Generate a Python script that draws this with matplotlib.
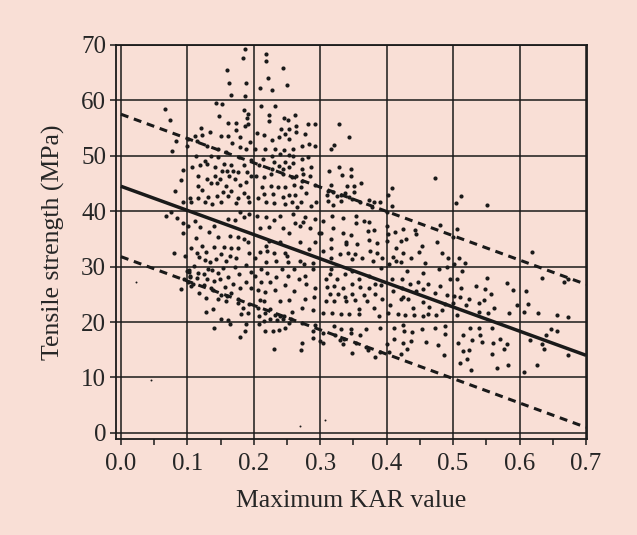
import matplotlib
matplotlib.use("Agg")
import matplotlib.pyplot as plt
from matplotlib.ticker import MultipleLocator

# ---------------- data ----------------
# KAR 0.0-0.1
x_a = [0.066,0.0745,0.083,0.077,0.1,0.0935,0.09,0.082,0.0935,0.0685,0.075,0.085,0.093,0.093,0.0795,0.096,0.0905,0.095,0.1,0.102,0.104,0.101,0.106]
y_a = [58.4,56.4,52.6,50.9,51.7,47.5,45.7,43.7,41.7,39.2,39.9,38.7,37.95,36.1,32.4,32.0,26.0,27.8,29.2,29.0,28.3,27.3,26.5]

# KAR 0.1-0.2
x_b = [0.1865,0.1845,0.16,0.1625,0.1885,0.1655,0.187,0.1435,0.152,0.185,0.192,0.1895,0.147,0.161,0.1735,0.1875,0.121,0.1345,0.1735,0.192,
       0.111,0.1225,0.15,0.161,0.1785,0.101,0.1145,0.1675,0.1945,0.13,0.146,0.1585,0.1785,0.1885,0.1135,0.127,0.135,0.146,0.177,0.196,
       0.107,0.1185,0.13,0.142,0.155,0.166,0.186,0.152,0.1595,0.1685,0.176,0.1895,0.116,0.13,0.141,0.1485,0.162,0.172,0.196,0.116,
       0.135,0.1445,0.1585,0.1785,0.1885,0.1225,0.1535,0.166,0.185,0.1035,0.116,0.131,0.145,0.161,0.176,0.191,0.106,0.127,0.1375,0.15,
       0.1735,0.1935,0.111,0.101,0.1195,0.14,0.161,0.171,0.1785,0.186,0.1935,0.132,0.146,0.1635,0.176,0.185,0.191,0.1135,0.106,0.122,
       0.14,0.1545,0.166,0.176,0.115,0.1275,0.151,0.1635,0.117,0.1925,0.126,0.1335,0.1435,0.1585,0.1735,0.1095,0.131,0.137,0.1535,0.172,
       0.1885,0.102,0.116,0.125,0.146,0.161,0.1775,0.196,0.1045,0.115,0.13,0.14,0.1495,0.1685,0.1885,0.1085,0.1245,0.136,0.156,0.1785,
       0.196,0.117,0.1385,0.151,0.166,0.1285,0.146,0.16,0.1575,0.176,0.176,0.1935,0.1385,0.1835,0.1275,0.151,0.161,0.1635,0.181,0.191,
       0.1885,0.14,0.1875,0.1795]
y_b = [69.3,67.6,65.5,63.1,63.1,61.0,60.8,59.6,59.3,58.25,57.5,56.8,57.2,56.0,56.0,55.3,55.1,54.3,54.6,55.7,
       53.6,53.7,53.6,53.5,53.3,53.1,52.6,52.3,52.4,51.8,51.2,50.6,51.5,51.2,50.0,49.1,49.9,49.7,49.7,49.2,
       48.0,48.3,48.5,47.9,48.5,48.3,48.3,47.3,47.3,47.3,47.1,47.1,46.4,45.9,46.4,45.8,46.3,45.9,46.4,44.6,
       45.1,45.0,44.6,44.7,45.2,43.9,43.5,43.7,43.3,42.3,42.3,42.65,42.8,42.8,42.3,42.5,41.6,41.6,41.3,41.6,
       41.4,41.6,38.25,37.3,37.2,37.3,38.55,38.4,39.8,39.0,39.5,36.3,35.4,35.5,35.4,34.9,34.5,35.2,33.4,33.7,
       33.6,33.6,33.4,33.3,32.5,32.7,32.2,31.9,31.8,32.5,31.2,30.8,31.3,31.0,31.6,30.1,29.6,29.4,29.8,30.0,
       30.3,29.3,28.9,28.6,28.9,28.2,28.7,29.1,28.2,28.0,27.7,27.4,27.8,26.8,27.2,26.8,26.6,26.1,26.4,26.2,
       26.2,25.2,25.8,24.8,25.3,24.4,24.1,24.7,23.8,24.2,23.5,23.3,22.4,22.6,21.9,20.5,20.3,19.6,21.4,21.6,
       19.6,19.0,18.4,17.3]

# KAR 0.2-0.3
x_c = [0.219,0.218,0.2435,0.221,0.2495,0.2095,0.2275,0.211,0.2315,0.2235,0.2235,0.245,0.251,0.2625,0.264,0.2815,0.2925,0.2415,0.2535,0.205,
       0.216,0.2385,0.2475,0.264,0.2765,0.2275,0.2535,0.2725,0.2835,0.2915,0.2025,0.2175,0.2325,0.246,0.2585,0.2275,0.24,0.2525,0.2595,0.2135,
       0.2725,0.2815,0.2085,0.23,0.2475,0.2595,0.286,0.2275,0.2375,0.2435,0.2525,0.2725,0.204,0.215,0.2265,0.2435,0.2575,0.264,0.2735,0.285,
       0.2725,0.2925,0.2125,0.226,0.2365,0.2475,0.261,0.2715,0.215,0.229,0.2435,0.2525,0.2625,0.279,0.2065,0.2185,0.231,0.2475,0.2575,0.2715,
       0.286,0.265,0.294,0.205,0.219,0.231,0.24,0.2595,0.2775,0.2925,0.21,0.2225,0.244,0.2625,0.274,0.27,0.285,0.2535,0.2975,0.2225,
       0.24,0.27,0.2925,0.21,0.2185,0.22,0.23,0.2475,0.2825,0.2025,0.25,0.251,0.27,0.275,0.289,0.2185,0.234,0.211,0.2425,0.26,
       0.289,0.22,0.2335,0.2515,0.2675,0.2775,0.2025,0.2115,0.225,0.2475,0.2785,0.2925,0.2065,0.2165,0.2325,0.26,0.29,0.21,0.216,0.2395,
       0.2525,0.2775,0.206,0.225,0.2725,0.2885,0.2075,0.2175,0.2325,0.2575,0.245,0.215,0.225,0.235,0.24,0.2435,0.2525,0.2565,0.2085,0.2725,
       0.2915,0.2165,0.2285,0.2375,0.2475,0.2885,0.2885,0.2725,0.2715,0.231]
y_c = [68.4,67.1,65.8,64.0,62.8,62.2,61.9,58.9,58.9,57.3,56.3,56.9,56.4,57.3,55.4,55.8,55.7,54.8,54.8,54.1,
       53.7,53.4,53.9,54.3,54.0,52.9,53.0,51.8,52.1,51.8,51.2,51.3,51.3,51.0,51.2,49.9,50.3,50.2,49.9,49.5,
       49.5,49.8,48.3,48.8,48.8,48.7,47.9,47.7,48.1,47.6,47.9,47.6,46.4,46.1,46.7,46.7,46.1,46.4,46.7,46.3,
       45.5,44.7,44.3,44.6,44.3,44.3,44.8,44.3,43.1,43.1,42.5,42.9,42.95,43.3,42.3,41.6,41.4,41.3,41.6,41.6,
       41.0,40.7,41.6,39.2,38.9,38.4,39.2,39.5,38.9,38.6,36.9,37.2,37.0,37.8,38.1,37.3,37.0,36.1,36.1,34.6,
       34.5,34.5,34.5,32.7,33.7,32.8,32.5,32.4,33.1,31.5,31.9,30.8,31.0,30.4,30.7,30.8,31.0,29.5,29.5,29.5,
       29.5,28.8,28.2,28.3,27.7,28.3,28.3,27.3,27.3,26.6,26.8,26.2,25.8,25.4,25.8,25.6,24.6,23.9,23.8,23.8,
       23.9,24.2,22.6,22.4,22.6,22.2,21.0,21.7,21.3,21.8,21.0,20.2,20.5,20.3,21.1,20.5,19.9,20.5,19.6,19.8,
       19.4,18.4,18.4,18.5,19.0,18.4,17.2,16.3,14.9,15.2]

# KAR 0.3-0.4
x_d = [0.3275,0.344,0.32,0.3155,0.3135,0.3275,0.3335,0.346,0.347,0.3155,0.34,0.3515,0.3615,0.311,0.3185,0.331,0.337,0.3505,0.3095,0.3245,
       0.343,0.311,0.3195,0.331,0.348,0.3605,0.373,0.381,0.3905,0.378,0.3035,0.3175,0.334,0.3535,0.3655,0.373,0.3535,0.301,0.3185,0.334,
       0.3465,0.3715,0.3815,0.316,0.3395,0.3385,0.3555,0.373,0.3855,0.3035,0.316,0.3295,0.3425,0.3525,0.3745,0.3855,0.393,0.316,0.363,0.348,
       0.3795,0.392,0.316,0.315,0.3085,0.3245,0.3375,0.3475,0.358,0.373,0.383,0.3105,0.321,0.334,0.348,0.3605,0.373,0.391,0.3145,0.326,
       0.3375,0.348,0.3655,0.382,0.3085,0.321,0.339,0.3525,0.3705,0.393,0.359,0.3805,0.3045,0.317,0.331,0.3435,0.359,0.388,0.3045,0.32,
       0.3225,0.331,0.347,0.347,0.3595,0.369,0.3895,0.33,0.335,0.3365,0.3545,0.3485,0.369,0.372,0.383,0.3895,0.3045,0.3,
       0.4,0.402,0.404,0.4,0.403]
y_d = [55.7,53.3,51.9,51.2,47.3,47.9,46.5,47.7,46.4,44.7,44.5,44.6,45.0,43.7,43.4,42.9,43.3,43.5,42.9,42.8,
       42.6,41.9,41.1,41.9,42.2,41.6,42.0,41.7,41.6,40.7,38.3,39.2,38.7,39.2,38.3,38.0,37.8,36.1,36.9,36.1,
       35.7,36.4,36.6,34.9,34.5,34.0,34.0,34.8,34.3,32.8,33.4,32.2,32.5,32.2,32.8,32.5,31.6,31.5,31.6,31.3,
       31.1,29.8,29.5,28.7,27.8,27.8,28.6,29.2,27.7,28.3,26.8,26.4,26.5,26.2,26.8,26.3,26.2,26.6,25.0,25.0,
       24.5,25.0,24.9,25.0,23.8,23.8,23.8,24.0,23.8,24.1,22.3,22.6,21.6,21.7,21.4,21.4,21.4,21.1,18.1,19.2,
       17.7,18.7,18.8,18.1,17.65,18.8,19.0,16.7,16.1,16.9,16.3,14.5,15.5,14.9,13.7,14.6,16.3,16.6,
       39.9,35.8,30.4,16.0,14.6]

# KAR 0.4-0.5
x_e = [0.4727,0.408,0.402,0.408,0.4,0.412,0.4247,0.4424,0.4434,0.4803,0.4222,0.4298,0.4525,0.4753,0.401,0.4146,0.4247,0.449,0.4828,0.4091,
       0.4364,0.4929,0.4146,0.4576,0.4222,0.4313,0.4551,0.4788,0.4904,0.4086,0.4227,0.4475,0.4626,0.4803,0.4348,0.4955,0.4096,0.4237,0.4439,0.4545,
       0.4722,0.4909,0.4217,0.4247,0.4318,0.4045,0.4399,0.4636,0.4879,0.402,0.4172,0.4273,0.4414,0.4551,0.4621,0.4747,0.4838,0.4551,0.4111,0.4247,
       0.4258,0.4374,0.4525,0.4727,0.4879,0.4111,0.4247,0.4364,0.4586,0.4879,0.4768,0.4212,0.4313,0.4864]
y_e = [46.0,44.2,43.0,41.0,37.3,36.3,36.7,36.6,35.8,37.6,34.6,35.0,33.8,34.5,34.6,33.3,32.5,32.7,32.5,31.7,
       31.5,31.6,31.1,30.7,30.8,29.2,28.9,29.6,29.9,27.8,27.7,27.2,26.8,26.5,26.8,27.7,25.6,26.2,25.6,26.0,
       25.3,24.8,24.2,24.5,24.2,23.0,22.6,22.7,23.2,21.7,21.5,21.2,21.2,21.1,21.4,21.2,22.2,23.6,19.0,19.4,
       18.4,18.2,18.8,19.0,19.2,16.9,16.3,16.6,16.4,17.8,15.8,14.2,15.1,14.1]

# KAR 0.5-0.7
x_f = [0.512,0.505,0.5505,0.506,0.5,0.6185,0.5095,0.5185,0.502,0.5135,0.506,0.551,0.581,0.6335,0.667,0.673,0.535,0.548,0.5895,0.6095,
       0.512,0.557,0.501,0.511,0.5245,0.547,0.5385,0.4995,0.5195,0.561,0.5955,0.613,0.506,0.5395,0.553,0.5845,0.606,0.6285,0.657,0.673,
       0.526,0.5385,0.5585,0.647,0.657,0.5145,0.541,0.6405,0.5285,0.5435,0.5595,0.571,0.581,0.616,0.6345,0.507,0.5155,0.5235,0.577,0.637,
       0.558,0.6735,0.5205,0.511,0.582,0.6255,0.527,0.5655,0.607]
y_f = [42.7,41.4,41.1,36.7,35.4,32.7,31.5,30.7,30.4,29.2,27.8,28.0,27.1,27.9,27.3,27.8,26.5,25.9,25.7,25.6,
       26.2,25.0,24.7,24.6,24.2,24.0,23.4,23.5,23.0,22.6,23.0,23.2,21.2,21.8,21.6,21.6,21.8,21.6,21.3,20.9,
       19.0,18.9,18.9,18.7,18.3,17.6,17.6,17.6,16.7,16.4,16.3,17.0,16.0,16.7,16.0,16.3,14.8,14.9,15.1,15.2,
       14.3,14.0,13.4,12.65,12.3,12.2,11.4,11.7,11.0]

# faint stray specks
x_small = [0.023, 0.046, 0.307, 0.27]
y_small = [27.3, 9.6, 2.3, 1.2]

# regression line and bounds
line_x = [0.0, 0.7]
fit_y = [44.5, 14.0]
upper_y = [57.5, 26.8]
lower_y = [31.8, 1.0]

x_ticks = [0.0, 0.1, 0.2, 0.3, 0.4, 0.5, 0.6, 0.7]
x_tick_labels = ["0.0", "0.1", "0.2", "0.3", "0.4", "0.5", "0.6", "0.7"]
y_ticks = [0, 10, 20, 30, 40, 50, 60, 70]
y_tick_labels = ["0", "10", "20", "30", "40", "50", "60", "70"]

# ---------------- drawing ----------------
bg = "#F9DFD6"
ink = "#1a1a1a"
plt.rcParams["font.family"] = ["Liberation Serif", "DejaVu Serif"]

fig = plt.figure(figsize=(6.37, 5.35), dpi=100, facecolor=bg)
ax = fig.add_axes([0.182, 0.180, 0.7395, 0.736])
ax.set_facecolor(bg)

ax.set_xlim(-0.0075, 0.7015)
ax.set_ylim(-1.05, 70)

# grid
for xv in x_ticks:
    ax.axvline(xv, color=ink, lw=1.1, zorder=1)
for yv in y_ticks:
    ax.axhline(yv, color=ink, lw=1.1, zorder=1)

xs = x_a + x_b + x_c + x_d + x_e + x_f
ys = y_a + y_b + y_c + y_d + y_e + y_f
ax.scatter(xs, ys, s=9, color=ink, linewidths=0, zorder=3)
ax.scatter(x_small, y_small, s=2, color=ink, linewidths=0, zorder=3)

ax.plot(line_x, fit_y, color=ink, lw=2.5, solid_capstyle="butt", zorder=4)
ax.plot(line_x, upper_y, color=ink, lw=2.2, dashes=(2.6, 1.9), zorder=4)
ax.plot(line_x, lower_y, color=ink, lw=2.2, dashes=(2.6, 1.9), zorder=4)

for s in ax.spines.values():
    s.set_color(ink)
    s.set_linewidth(1.3)

ax.set_xticks(x_ticks)
ax.set_xticklabels(x_tick_labels)
ax.xaxis.set_minor_locator(MultipleLocator(0.05))
ax.set_yticks(y_ticks)
ax.set_yticklabels(y_tick_labels)
ax.tick_params(axis="both", which="both", direction="out", length=4, width=1.1,
               color=ink, labelsize=18, labelcolor="#262626")
ax.tick_params(axis="x", pad=6)
ax.tick_params(axis="y", pad=3)

ax.set_xlabel("Maximum KAR value", fontsize=18.5, color="#262626", labelpad=11)
ax.set_ylabel("Tensile strength (MPa)", fontsize=18.5, color="#262626", labelpad=12)

fig.savefig("out.png", dpi=100, facecolor=bg)
